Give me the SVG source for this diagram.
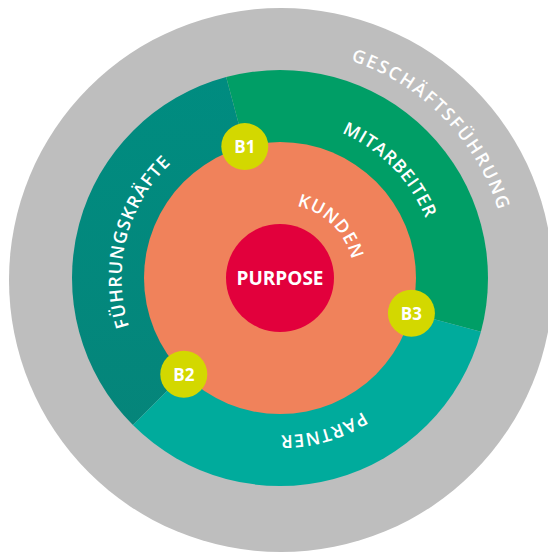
<svg xmlns="http://www.w3.org/2000/svg" width="548" height="552" viewBox="0 0 548 552">
<style>
.lbl{font-family:"Open Sans","DejaVu Sans",sans-serif;font-weight:600;font-size:18px;fill:#ffffff;text-anchor:middle}
.b{font-family:"Open Sans","DejaVu Sans",sans-serif;font-weight:700;font-size:17px;fill:#ffffff;text-anchor:middle}
.bc{fill:#d3d800}
</style>
<defs>
<linearGradient id="gF" x1="0" y1="0" x2="0" y2="1">
<stop offset="0" stop-color="#008c80"/>
<stop offset="1" stop-color="#05857a"/>
</linearGradient>
<path id="pG" d="M116.72,437.90 A228.5,228.5 0 0 1 443.28,118.10 A228.5,228.5 0 0 1 116.72,437.90"/>
<path id="pM" d="M167.66,388.39 A157.5,157.5 0 0 1 392.34,167.61 A157.5,157.5 0 0 1 167.66,388.39"/>
<path id="pF" d="M433.45,317.69 A158.5,158.5 0 0 1 126.55,238.31 A158.5,158.5 0 0 1 433.45,317.69"/>
<path id="pP" d="M236.85,126.53 A157.5,157.5 0 0 1 323.15,429.47 A157.5,157.5 0 0 1 236.85,126.53"/>
<path id="pK" d="M227.60,330.95 A74.5,74.5 0 0 1 332.40,225.05 A74.5,74.5 0 0 1 227.60,330.95"/>
</defs>

<g id="geschaeftsfuehrung">
<circle cx="281" cy="280" r="272" fill="#bebebe"/>
<text class="lbl" letter-spacing="2"><textPath href="#pG" startOffset="50%">GESCHÄFTSFÜHRUNG</textPath></text>
</g>

<g id="fuehrungskraefte">
<path d="M280,278 L132.92,425.08 A208,208 0 0 1 226.17,77.09 Z" fill="url(#gF)"/>
<text class="lbl" letter-spacing="1.1"><textPath href="#pF" startOffset="50%">FÜHRUNGSKRÄFTE</textPath></text>
</g>

<g id="mitarbeiter">
<path d="M280,278 L226.17,77.09 A208,208 0 0 1 480.91,331.83 Z" fill="#009e66"/>
<text class="lbl" letter-spacing="0.8"><textPath href="#pM" startOffset="50%">MITARBEITER</textPath></text>
</g>

<g id="partner">
<path d="M280,278 L480.91,331.83 A208,208 0 0 1 132.92,425.08 Z" fill="#00ab9c"/>
<text class="lbl" letter-spacing="1"><textPath href="#pP" startOffset="50%">PARTNER</textPath></text>
</g>

<g id="kunden">
<circle cx="280" cy="278" r="136" fill="#f0825b"/>
<text class="lbl" letter-spacing="0.9"><textPath href="#pK" startOffset="50%">KUNDEN</textPath></text>
</g>

<g id="purpose">
<circle cx="280" cy="278" r="54" fill="#e2003c"/>
<text x="280" y="285" class="b" style="font-size:19px">PURPOSE</text>
</g>

<g id="b1">
<circle class="bc" cx="244.8" cy="146.6" r="23.5"/>
<text class="b" x="244.8" y="153">B1</text>
</g>
<g id="b2">
<circle class="bc" cx="183.8" cy="374.2" r="23.5"/>
<text class="b" x="183.8" y="380.5">B2</text>
</g>
<g id="b3">
<circle class="bc" cx="411.4" cy="313.2" r="23.5"/>
<text class="b" x="411.4" y="319.5">B3</text>
</g>

<g id="connectors"/>
</svg>
